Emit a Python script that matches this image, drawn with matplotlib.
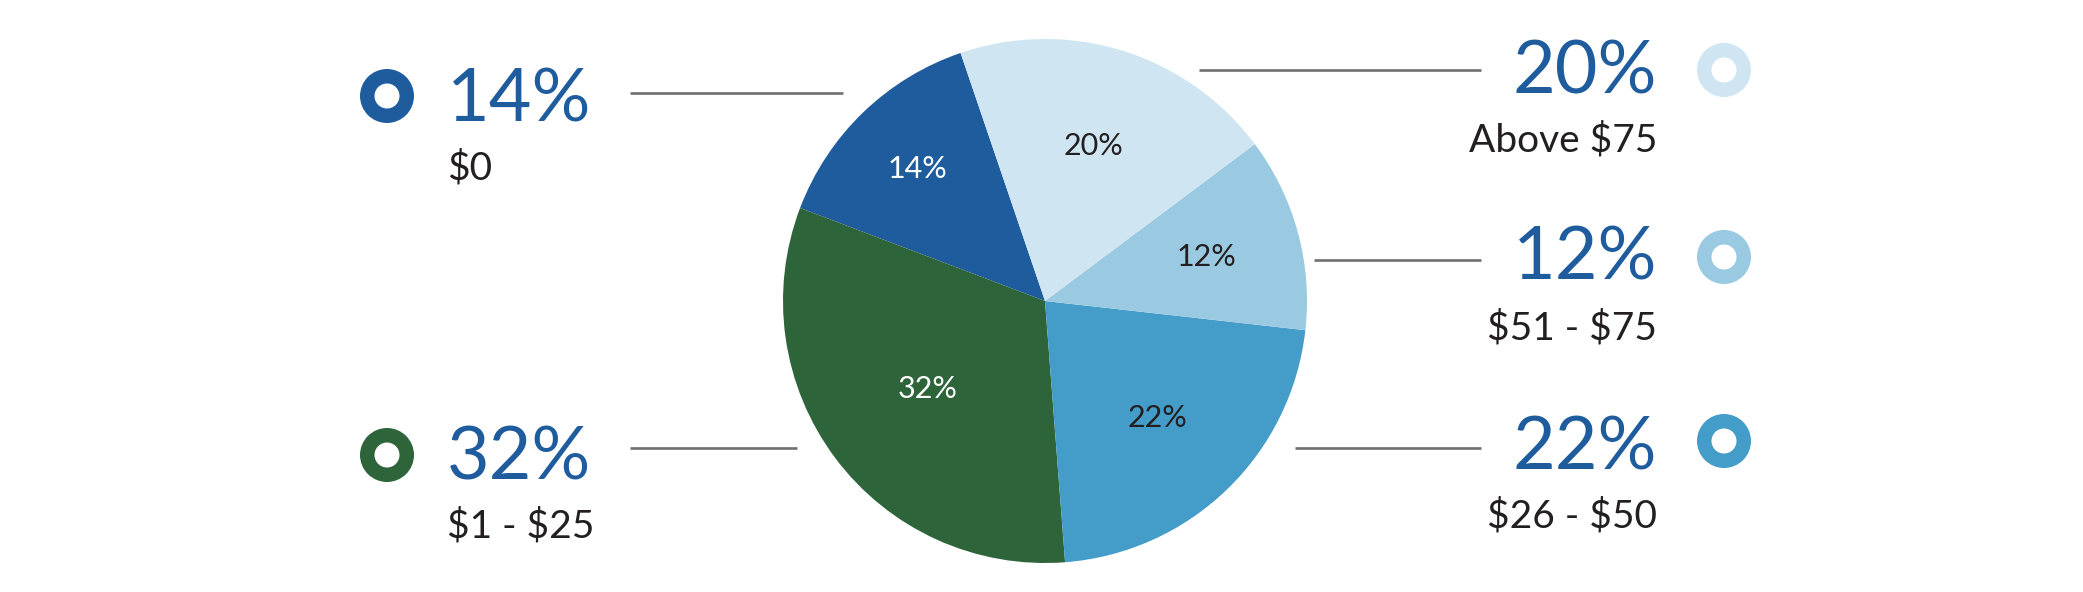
import matplotlib.pyplot as plt
from matplotlib.patches import Circle
import numpy as np

W, H = 2083, 592

# data
shares = [14, 32, 22, 12, 20]
ranges = ["$0", "$1 - $25", "$26 - $50", "$51 - $75", "Above $75"]
colors = ["#1f5c9e", "#2e643a", "#449cc9", "#9acae1", "#cfe6f2"]
inner_txt_colors = ["white", "white", "#231f20", "#231f20", "#231f20"]
inner_dist = [0.70, 0.56, 0.62, 0.64, 0.62]

plt.rcParams['font.family'] = ['Lato', 'DejaVu Sans']
plt.rcParams['text.parse_math'] = False

fig = plt.figure(figsize=(W / 100, H / 100), dpi=100)
ax = fig.add_axes([0, 0, 1, 1])

cx, cy, r = 1045, H - 301, 262
wedges, _ = ax.pie(shares, colors=colors, startangle=108.8, counterclock=True,
                   center=(cx, cy), radius=r, wedgeprops=dict(linewidth=0))

for w, val, tc, d in zip(wedges, shares, inner_txt_colors, inner_dist):
    mid = np.deg2rad((w.theta1 + w.theta2) / 2)
    ax.text(cx + d * r * np.cos(mid), cy + d * r * np.sin(mid), f"{val}%",
            color=tc, fontsize=22, ha="center", va="center")

# callouts: (slice index, side, marker y, line y, line x0, line x1, baseline of big text)
callouts = [
    (0, "left", 96, 93, 630, 843, 121),
    (1, "left", 455, 448, 630, 797, 479),
    (4, "right", 70, 70, 1199, 1481, 93),
    (3, "right", 257, 260, 1314, 1481, 280),
    (2, "right", 441, 448, 1295, 1481, 469),
]

for i, side, my, ly, x0, x1, base in callouts:
    ax.plot([x0, x1], [H - ly, H - ly], color="#707070", lw=1.9, solid_capstyle="butt")
    if side == "left":
        mx, tx, ha = 387, 447, "left"
    else:
        mx, tx, ha = 1724, 1657, "right"
    ax.add_patch(Circle((mx, H - my), 27, color=colors[i], lw=0))
    ax.add_patch(Circle((mx, H - my), 12.5, color="white", lw=0))
    ax.text(tx, H - base, f"{shares[i]}%", color="#1f5c9e", fontsize=53,
            ha=ha, va="baseline")
    ax.text(tx, H - base - 59, ranges[i], color="#231f20", fontsize=28,
            ha=ha, va="baseline")

ax.set_xlim(0, W)
ax.set_ylim(0, H)
ax.set_aspect("equal")
ax.axis("off")

fig.savefig("out.png", dpi=100, facecolor="white")
